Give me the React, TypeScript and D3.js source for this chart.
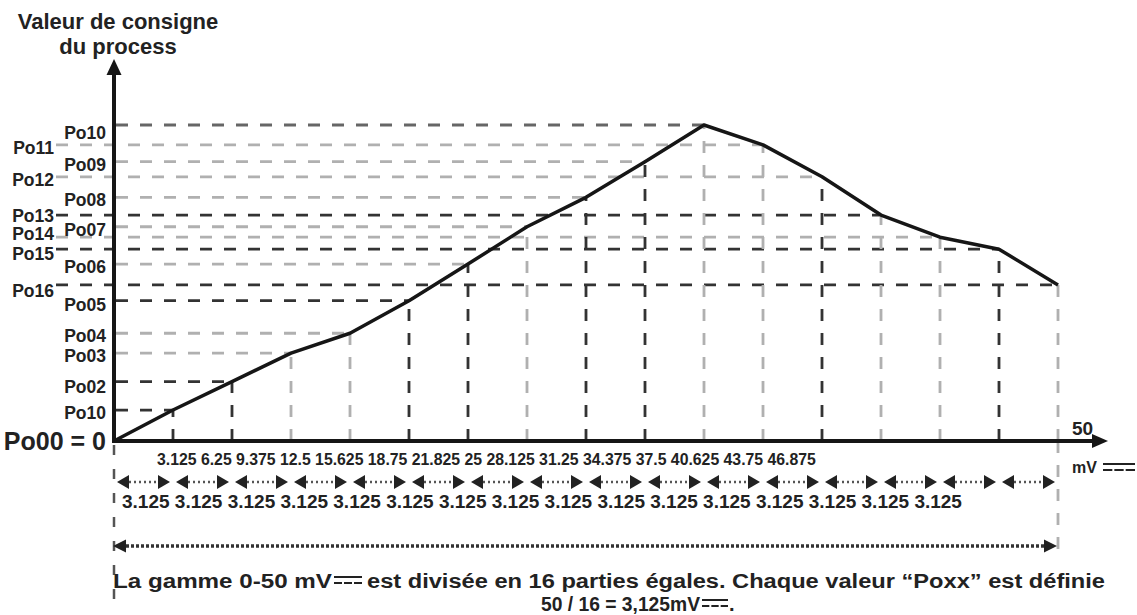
import { line, scaleLinear } from "d3";

// x positions (mV) of the 17 set points, 0 -> 50 in 16 equal parts
const xValues = [
  0, 3.125, 6.25, 9.375, 12.5, 15.625, 18.75, 21.875, 25, 28.125, 31.25,
  34.375, 37.5, 40.625, 43.75, 46.875, 50,
];

// process set point, in % of the highest point (Po10)
const setpoints = [
  0, 9.8, 18.8, 27.8, 34.1, 44.4, 56.0, 67.8, 77.1, 88.4, 100, 93.7, 83.6,
  71.5, 64.5, 60.7, 49.4,
];

const pointLabels = [
  "Po00 = 0", "Po10", "Po02", "Po03", "Po04", "Po05", "Po06", "Po07", "Po08",
  "Po09", "Po10", "Po11", "Po12", "Po13", "Po14", "Po15", "Po16",
];

const tickLabels = [
  "3.125", "6.25", "9.375", "12.5", "15.625", "18.75", "21.825", "25",
  "28.125", "31.25", "34.375", "37.5", "40.625", "43.75", "46.875",
];

const stepLabels = xValues.slice(1).map((v, i) => String(v - xValues[i]));

// which guide lines are drawn dark (the others are light grey)
const darkRows = [1, 2, 5, 13, 15, 16];
const darkCols = [1, 2, 5, 6, 8, 9, 12, 15];
// label baseline offset from its guide line
const labelNudge: Record<number, number> = { 10: 14, 13: 7, 14: 3, 15: 11, 16: 12, 5: 10, 2: 11 };

const FONT = "'Liberation Sans', Arial, sans-serif";
const NARROW = "'Liberation Sans Narrow', 'Liberation Sans', Arial, sans-serif";
const DARK = "#333";
const LIGHT = "#b0b0b0";

const DcSymbol = ({ x, y, w }: { x: number; y: number; w: number }) => {
  const d = (w - 4) / 3;
  return (
    <g stroke="#222" strokeWidth={2}>
      <line x1={x} x2={x + w} y1={y} y2={y} />
      {[0, 1, 2].map((k) => (
        <line key={k} x1={x + k * (d + 2)} x2={x + k * (d + 2) + d} y1={y + 6} y2={y + 6} />
      ))}
    </g>
  );
};

const DoubleArrow = ({
  x1, x2, y, head, half, dash, width, color,
}: {
  x1: number; x2: number; y: number; head: number; half: number;
  dash: string; width: number; color: string;
}) => (
  <g>
    <line x1={x1 + head} x2={x2 - head} y1={y} y2={y} stroke={color} strokeWidth={width} strokeDasharray={dash} />
    <path d={`M${x1},${y}L${x1 + head},${y - half}L${x1 + head},${y + half}Z`} fill="#222" />
    <path d={`M${x2},${y}L${x2 - head},${y - half}L${x2 - head},${y + half}Z`} fill="#222" />
  </g>
);

const App = () => {
  const width = 1137;
  const height = 615;
  const x = scaleLinear().domain([0, 50]).range([114, 1058]);
  const y = scaleLinear().domain([0, 100]).range([441, 125]);
  const axisY = y(0);
  const axisX = x(0);

  const pts = xValues.map((v, i) => [x(v), y(setpoints[i])] as [number, number]);
  const path = line()(pts) ?? "";

  return (
    <svg
      width={width}
      height={height}
      style={{ position: "absolute", left: 0, top: 0, background: "#fff" }}
      fontFamily={FONT}
      fontWeight="bold"
    >
      {/* title */}
      <text x={118} y={29} fontSize={22} textAnchor="middle" fill="#222">Valeur de consigne</text>
      <text x={118} y={54} fontSize={22} textAnchor="middle" fill="#222">du process</text>

      {/* horizontal guides */}
      {pts.map(([px, py], i) => {
        if (i === 0) return null;
        const left = i > 10;
        const color = i === 10 ? "#666" : darkRows.includes(i) ? DARK : LIGHT;
        return (
          <line
            key={`h${i}`}
            x1={left ? 56 : axisX + 2}
            x2={px}
            y1={py}
            y2={py}
            stroke={color}
            strokeWidth={2.8}
            strokeDasharray="12 12"
          />
        );
      })}

      {/* vertical guides */}
      {pts.map(([px, py], i) => {
        if (i === 0) return null;
        const color = darkCols.includes(i) ? DARK : LIGHT;
        return (
          <line
            key={`v${i}`}
            x1={px}
            x2={px}
            y1={axisY}
            y2={py}
            stroke={color}
            strokeWidth={2.8}
            strokeDasharray="12 12"
          />
        );
      })}
      {/* guides running below the axis */}
      <line x1={axisX} x2={axisX} y1={axisY + 4} y2={605} stroke="#555" strokeWidth={2.5} strokeDasharray="10 14" />
      <line x1={x(50)} x2={x(50)} y1={axisY} y2={556} stroke={LIGHT} strokeWidth={2.8} strokeDasharray="12 12" />

      {/* point labels */}
      {pointLabels.map((lab, i) => {
        if (i === 0) {
          return (
            <text key={i} x={106} y={axisY + 9} fontSize={25} textAnchor="end" fill="#222">{lab}</text>
          );
        }
        const left = i > 10;
        return (
          <text
            key={i}
            x={left ? 54 : 106}
            y={pts[i][1] + (labelNudge[i] ?? 9)}
            fontSize={17.5}
            textAnchor="end"
            fill="#222"
          >
            {lab}
          </text>
        );
      })}

      {/* set point curve */}
      <path d={path} fill="none" stroke="#161616" strokeWidth={3.5} strokeLinejoin="round" />

      {/* axes */}
      <line x1={axisX} x2={axisX} y1={axisY + 2} y2={70} stroke="#161616" strokeWidth={4} />
      <path d={`M${axisX},59L${axisX - 7.5},75L${axisX + 7.5},75Z`} fill="#161616" />
      <line x1={axisX - 2} x2={1095} y1={axisY} y2={axisY} stroke="#161616" strokeWidth={4} />
      <path d={`M1108,${axisY}L1092,${axisY - 7}L1092,${axisY + 7}Z`} fill="#161616" />

      <text x={1072} y={435} fontSize={19} fill="#222">50</text>
      <text x={1072} y={473} fontSize={16} fill="#222">mV</text>
      <DcSymbol x={1103} y={464} w={32} />

      {/* tick values */}
      <text x={157} y={465} fontSize={15.8} fill="#222">{tickLabels.join(" ")}</text>

      {/* step arrows */}
      {xValues.slice(1).map((v, i) => (
        <DoubleArrow
          key={`a${i}`}
          x1={x(xValues[i]) + 3}
          x2={x(v) - 3}
          y={482}
          head={12}
          half={7}
          dash="2 3"
          width={2.5}
          color="#555"
        />
      ))}
      <text x={122} y={508} fontSize={19} fill="#222">{stepLabels.join(" ")}</text>

      {/* full range arrow */}
      <DoubleArrow x1={113} x2={1057} y={546} head={13} half={6.5} dash="3 2" width={3.5} color="#333" />

      {/* caption */}
      <g fontFamily={NARROW} fontSize={20} fill="#222">
        <text x={113} y={588} textLength={219} lengthAdjust="spacingAndGlyphs">La gamme 0-50 mV</text>
        <DcSymbol x={334} y={577} w={28} />
        <text x={367} y={588} textLength={738} lengthAdjust="spacingAndGlyphs">
          est divisée en 16 parties égales. Chaque valeur “Poxx” est définie
        </text>
        <text x={541} y={611} textLength={159} lengthAdjust="spacingAndGlyphs">50 / 16 = 3,125mV</text>
        <DcSymbol x={702} y={600} w={26} />
        <text x={729} y={611}>.</text>
      </g>
    </svg>
  );
};

export default App;
